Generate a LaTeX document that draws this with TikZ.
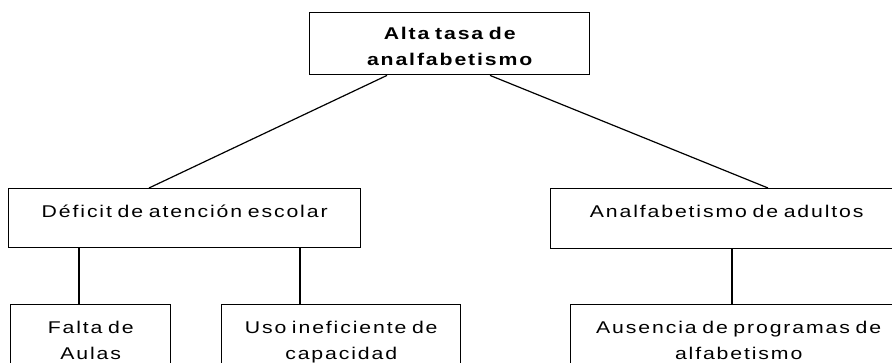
\documentclass[tikz,border=0pt]{standalone}
\usepackage{fontspec}
\setmainfont{Liberation Sans}[LetterSpace=11, FakeStretch=1.25, WordSpace=2.2]
\begin{document}
\begin{tikzpicture}[x=1pt,y=-1pt,
  box/.style={draw, line width=1.4pt, inner xsep=0pt, inner ysep=0pt, anchor=north west,
    font=\fontsize{17pt}{26pt}\selectfont, align=center},
  conn/.style={line width=1.2pt}]
\useasboundingbox (0,0) rectangle (892,363);
\clip (0,0) rectangle (892,363);
\node[box, minimum width=280pt, text width=280pt, text height=27pt, text depth=35pt,
  font=\fontsize{17pt}{26pt}\selectfont\bfseries] (top) at (309,12) {Alta tasa de\\analfabetismo};
\node[box, minimum width=352pt, text width=352pt, text height=29pt, text depth=30pt] (def) at (8,188) {Déficit de atención escolar};
\node[box, minimum width=352pt, text width=352pt, text height=29pt, text depth=31pt] (adu) at (550,188) {Analfabetismo de adultos};
\node[box, minimum width=160pt, text width=160pt, text height=29pt, text depth=40pt] (fal) at (10,304) {Falta de\\Aulas};
\node[box, minimum width=239pt, text width=239pt, text height=29pt, text depth=40pt] (uso) at (221,304) {Uso ineficiente de\\capacidad};
\node[box, minimum width=336pt, text width=336pt, text height=29pt, text depth=40pt] (aus) at (570,304) {Ausencia de programas de\\alfabetismo};
\draw[conn] ([xshift=78pt]top.south west) -- ([xshift=141pt]def.north west);
\draw[conn] ([xshift=181pt]top.south west) -- ([xshift=218pt]adu.north west);
\draw[conn] ([xshift=71pt]def.south west) -- ([xshift=69pt]fal.north west);
\draw[conn] ([xshift=292pt]def.south west) -- ([xshift=79pt]uso.north west);
\draw[conn] ([xshift=182pt]adu.south west) -- ([xshift=162pt]aus.north west);
\end{tikzpicture}
\end{document}
